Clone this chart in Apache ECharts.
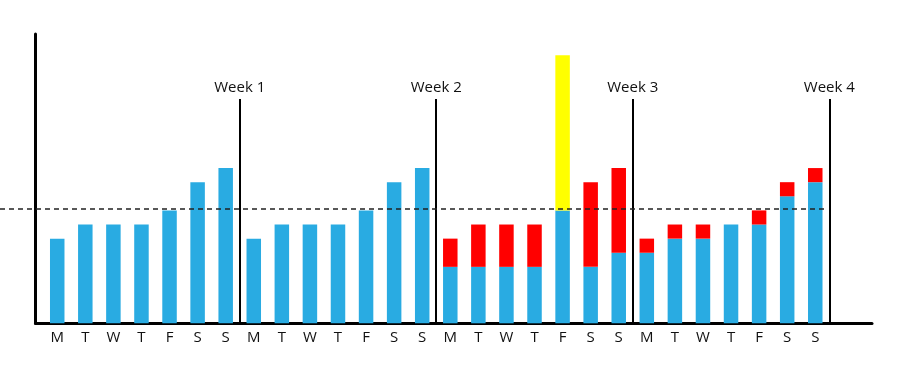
<!DOCTYPE html>
<html><head><meta charset="utf-8">
<script src="https://cdn.jsdelivr.net/npm/echarts@6/dist/echarts.min.js"></script>
<style>html,body{margin:0;padding:0;background:#fff}#c{width:900px;height:383px}</style>
</head><body><div id="c"></div>
<script>
// ---- data ----
const days = ['M','T','W','T','F','S','S','M','T','W','T','F','S','S','M','T','W','T','F','S','S','M','T','W','T','F','S','S'];
const blueValues = [6,7,7,7,8,10,11, 6,7,7,7,8,10,11, 4,4,4,4,8,4,5, 5,6,6,7,7,9,10];
const redValues  = [0,0,0,0,0,0,0, 0,0,0,0,0,0,0, 2,3,3,3,0,6,6, 1,1,1,0,1,1,1];
const yellowValues=[0,0,0,0,0,0,0, 0,0,0,0,0,0,0, 0,0,0,0,11,0,0, 0,0,0,0,0,0,0];
const targetValue = 8.1;
const weekLabels = ['Week 1','Week 2','Week 3','Week 4'];
const weekLineTop = 15.9;
const yMax = 20.5;
const daysPerWeek = 7;

const chart = echarts.init(document.getElementById('c'), null, {renderer:'canvas'});
const fontFamily = "'Open Sans', sans-serif";
const hidden = {show:false};
const option = {
  animation:false,
  grid:[
    {left:35.5, right:28, top:34, bottom:59.7},
    {left:43.2, right:70.7, top:34, bottom:59.7},
    {left:0, right:74, top:34, bottom:59.7}
  ],
  xAxis:[
    {gridIndex:0, type:'value', min:0, max:1, axisLine:{show:true, onZero:false, lineStyle:{color:'#000', width:3}}, axisTick:hidden, axisLabel:hidden, splitLine:hidden},
    {gridIndex:1, type:'category', data:days, axisLine:hidden, axisTick:hidden, splitLine:hidden,
      axisLabel:{interval:0, color:'#111', fontSize:15, fontFamily:fontFamily, margin:7}},
    {gridIndex:1, type:'value', position:'top', min:-0.5, max:days.length-0.5, show:false},
    {gridIndex:2, type:'value', min:0, max:1, show:false}
  ],
  yAxis:[
    {gridIndex:0, type:'value', min:0, max:yMax, axisLine:{show:true, onZero:false, lineStyle:{color:'#000', width:3}}, axisTick:hidden, axisLabel:hidden, splitLine:hidden},
    {gridIndex:1, type:'value', min:0, max:yMax, show:false},
    {gridIndex:2, type:'value', min:0, max:yMax, show:false}
  ],
  series:[
    {type:'bar', xAxisIndex:1, yAxisIndex:1, stack:'s', barWidth:14.5, data:blueValues, itemStyle:{color:'#29ABE2'}, silent:true},
    {type:'bar', xAxisIndex:1, yAxisIndex:1, stack:'s', barWidth:14.5, data:redValues, itemStyle:{color:'#FF0000'}, silent:true},
    {type:'bar', xAxisIndex:1, yAxisIndex:1, stack:'s', barWidth:14.5, data:yellowValues, itemStyle:{color:'#FFFF00'}, silent:true},
    {type:'line', xAxisIndex:2, yAxisIndex:1, data:[], silent:true,
      markLine:{silent:true, symbol:['none','none'],
        lineStyle:{color:'#000', width:2, type:'solid'},
        label:{show:true, position:'start', formatter:'{b}', color:'#111', fontSize:15, fontFamily:fontFamily, distance:4},
        data: weekLabels.map((n,i)=>[{name:n, coord:[(i+1)*daysPerWeek-0.5, weekLineTop]},{coord:[(i+1)*daysPerWeek-0.5, 0]}])
      }
    },
    {type:'line', xAxisIndex:3, yAxisIndex:2, data:[], silent:true, z:5,
      markLine:{silent:true, symbol:['none','none'],
        lineStyle:{color:'#222', width:1.5, type:[5,4]},
        label:{show:false},
        data:[{yAxis:targetValue}]
      }
    }
  ]
};
chart.setOption(option);
</script>
</body></html>
